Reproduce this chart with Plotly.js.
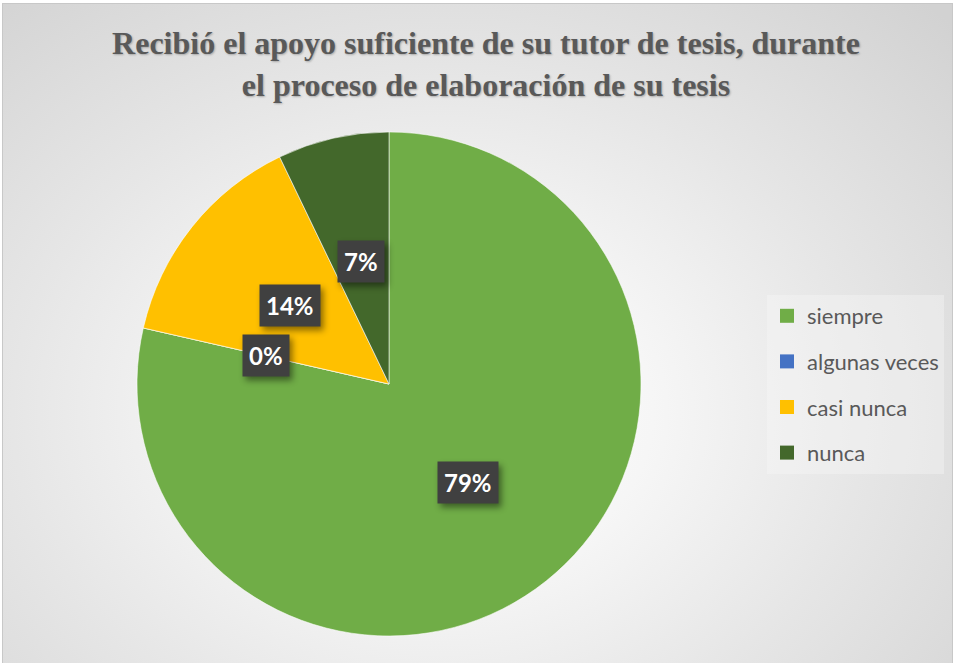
<!DOCTYPE html>
<html>
<head>
<meta charset="utf-8">
<script src="https://cdn.plot.ly/plotly-3.0.1.min.js"></script>
<style>
  html, body { margin: 0; padding: 0; background: #ffffff; }
  #wrap { position: relative; width: 955px; height: 663px; overflow: hidden; background: #ffffff; }
  #bg { position: absolute; left: 3px; top: 4px; width: 949px; height: 659px;
        background: radial-gradient(ellipse 75% 85% at 46% 62%, #ffffff 0%, #f6f6f6 30%, #e6e6e6 60%, #d2d2d2 100%);
        box-shadow: 0 0 0 1px #c8c8c8; }
  #chart { position: absolute; left: 0; top: 0; width: 955px; height: 663px; }
  .annotation rect.bg { filter: drop-shadow(3px 4px 3px rgba(0,0,0,0.45)); }
  .gtitle { text-shadow: 1px 1px 2px rgba(0,0,0,0.25); }
</style>
</head>
<body>
<div id="wrap"><div id="bg"></div><div id="chart"></div></div>
<script>
// ---- data ----
const categories = ["siempre", "algunas veces", "casi nunca", "nunca"];
const counts = [11, 0, 2, 1];
const colors = ["#70AD47", "#4472C4", "#FFC000", "#43682B"];
const titleText = "Recibió el apoyo suficiente de su tutor de tesis, durante<br>el proceso de elaboración de su tesis";

// ---- layout geometry ----
const W = 955, H = 663;
const cx = 389, cy = 384, R = 252;
const domainX = [(cx - R) / W, (cx + R) / W];
const domainY = [1 - (cy + R) / H, 1 - (cy - R) / H];

// data labels placed at half radius on each slice's mid-angle
const total = counts.reduce((a, b) => a + b, 0);
let cum = 0;
const annotations = counts.map((v, i) => {
  const frac = v / total;
  const mid = (cum + frac / 2) * 2 * Math.PI;
  cum += frac;
  const px = cx + 0.5 * R * Math.sin(mid);
  const py = cy - 0.5 * R * Math.cos(mid);
  return {
    x: px / W, y: 1 - py / H, xref: "paper", yref: "paper",
    text: "<b>" + Math.round(frac * 100) + "%</b>",
    showarrow: false,
    font: { family: "Lato, 'Open Sans', sans-serif", size: 24, color: "#ffffff" },
    bgcolor: "#404040",
    borderpad: 6,
    xanchor: "center", yanchor: "middle"
  };
});

const pieTrace = {
  type: "pie",
  labels: categories,
  values: counts,
  sort: false,
  direction: "clockwise",
  rotation: 0,
  marker: { colors: colors, line: { color: "rgba(255,255,255,0.55)", width: 1 } },
  textinfo: "none",
  hoverinfo: "label+percent",
  domain: { x: domainX, y: domainY },
  showlegend: false
};

// legend entries (one per category, no plotted points) so the legend can be spaced like the original
const legendTraces = categories.map((c, i) => ({
  type: "scatter", mode: "markers",
  x: [null], y: [null],
  name: c,
  legendgroup: "g" + i,
  marker: { symbol: "square", size: 14, color: colors[i] },
  showlegend: true,
  hoverinfo: "skip"
}));

const layout = {
  width: W, height: H,
  margin: { l: 0, r: 0, t: 0, b: 0 },
  paper_bgcolor: "rgba(0,0,0,0)",
  plot_bgcolor: "rgba(0,0,0,0)",
  xaxis: { visible: false, domain: [0.99, 1] },
  yaxis: { visible: false, domain: [0.99, 1] },
  title: {
    text: "<b>" + titleText + "</b>",
    font: { family: "'Liberation Serif', 'Times New Roman', serif", size: 32, color: "#595959" },
    x: 486 / W, xanchor: "center",
    y: 1 - 54 / H, yanchor: "top",
    yref: "paper"
  },
  legend: {
    x: 767 / W, xanchor: "left",
    y: 1 - 295 / H, yanchor: "top",
    bgcolor: "rgba(250,250,250,0.35)",
    font: { family: "Lato, 'Open Sans', sans-serif", size: 22, color: "#595959" },
    traceorder: "grouped",
    tracegroupgap: 14,
    itemwidth: 30,
    itemclick: false
  },
  annotations: annotations
};

Plotly.newPlot("chart", [pieTrace, ...legendTraces], layout, { displayModeBar: false, staticPlot: true });
</script>
</body>
</html>
